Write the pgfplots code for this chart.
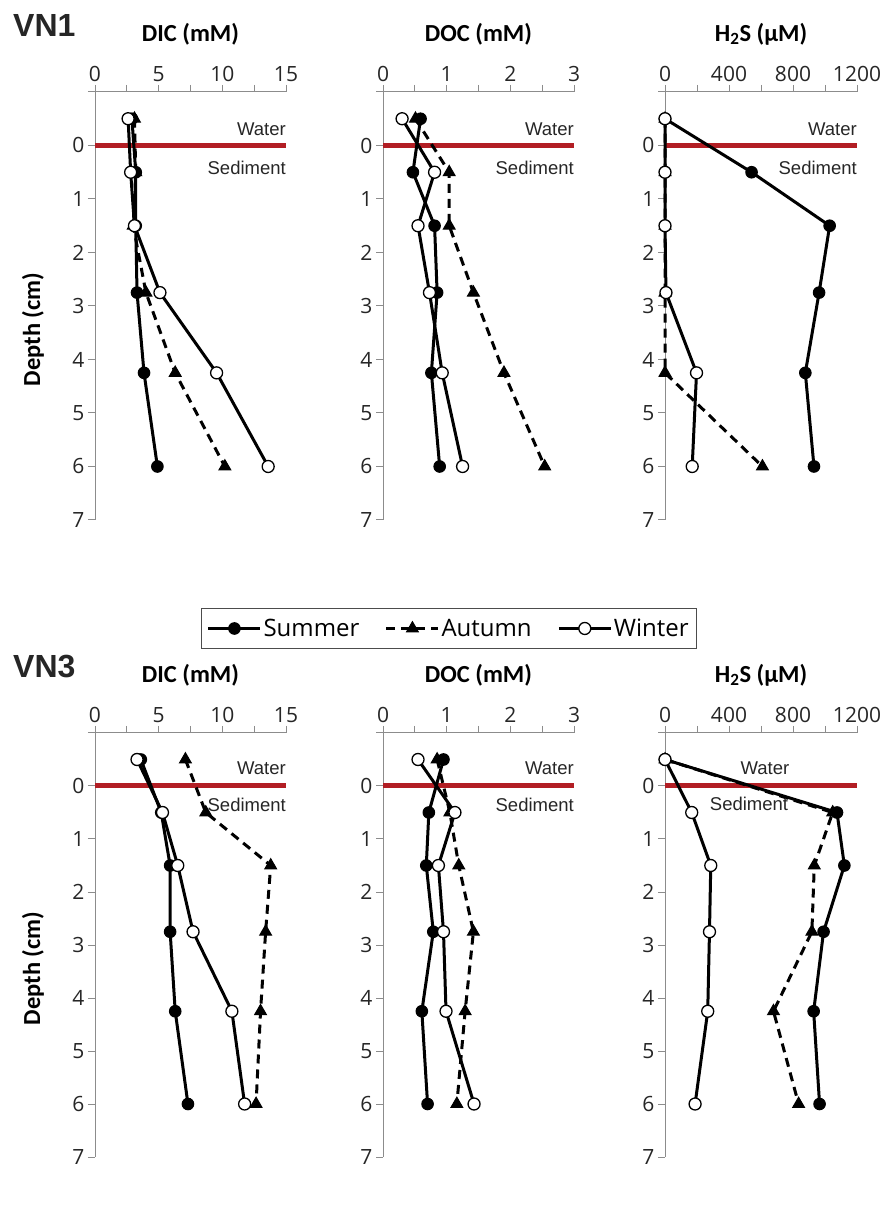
\documentclass[border=0pt]{standalone}
\usepackage{fontspec}
\setmainfont{Carlito}
\newfontfamily\osans{Open Sans}
\newfontfamily\arialf{Liberation Sans}
\usepackage{pgfplots}
\pgfplotsset{compat=1.18}
\usepackage{pgfplotstable}

\definecolor{sedred}{RGB}{178,30,36}
\definecolor{axgray}{RGB}{140,140,140}

% VN1
\pgfplotstableread{
depth dicS dicA dicW docS docA docW hsS hsA hsW
-0.5 2.9 3.1 2.6 0.59 0.51 0.30 0 0 0
0.5 3.2 3.2 2.8 0.47 1.04 0.81 541 0 0
1.5 3.2 3.0 3.1 0.81 1.04 0.55 1029 0 0
2.75 3.3 4.0 5.1 0.85 1.42 0.73 963 0 6
4.25 3.85 6.3 9.55 0.76 1.90 0.93 877 0 197
6 4.9 10.2 13.6 0.89 2.54 1.25 931 609 170
}\vnone

% VN3
\pgfplotstableread{
depth dicS dicA dicW docS docA docW hsS hsA hsW
-0.5 3.6 7.1 3.3 0.95 0.85 0.55 0 0 0
0.5 5.2 8.7 5.3 0.72 1.05 1.13 1075 1048 167
1.5 5.9 13.8 6.5 0.68 1.19 0.87 1121 933 286
2.75 5.9 13.4 7.7 0.79 1.42 0.95 991 918 278
4.25 6.3 13.0 10.75 0.61 1.29 0.99 929 678 267
6 7.3 12.65 11.75 0.70 1.16 1.43 966 835 188
}\vnthree

\tikzset{
  wsfont/.style={font=\arialf\fontsize{18.5}{18.5}\selectfont, inner sep=0pt, text=black!85},
}
\pgfplotsset{
  prof/.style={
    scale only axis, width=191pt,
    y dir=reverse, ymin=-1, ymax=7,
    ytick={-1,0,...,7}, yticklabels={,0,1,2,3,4,5,6,7},
    axis x line=top, axis y line=left,
    axis line style={-, draw=axgray, line width=1pt},
    tick style={draw=axgray, line width=1pt},
    tick align=outside,
    major tick length=7pt, minor tick length=7pt,
    tick label style={font=\osans\fontsize{21}{21}\selectfont, text=black!85},
    /pgf/number format/assume math mode=true,
    /pgf/number format/1000 sep={},
    scaled x ticks=false,
    clip=false,
    title style={font=\bfseries\fontsize{24.5}{24.5}\selectfont, at={(axis description cs:0.5,1)}, anchor=center, yshift=52pt},
    ylabel style={font=\bfseries\fontsize{24.5}{24.5}\selectfont, at={(axis description cs:-0.325,0.445)}, anchor=center},
  },
  dicax/.style={xmin=0, xmax=15, xtick={0,5,10,15}, minor xtick={2.5,7.5,12.5}},
  docax/.style={xmin=0, xmax=3, xtick={0,1,2,3}, minor xtick={0.5,1.5,2.5}},
  hsax/.style={xmin=0, xmax=1200, xtick={0,400,800,1200}, minor xtick={200,600,1000}},
  summer/.style={black, solid, line width=3pt, mark=*, mark size=5.8pt, mark options={solid, fill=black, line width=1pt}},
  autumn/.style={black, line width=3pt, dash pattern=on 9pt off 6pt, mark=triangle*, mark size=6.8pt, mark options={solid, fill=black, line width=1pt}},
  winter/.style={black, solid, line width=3pt, mark=*, mark size=6pt, mark options={solid, fill=white, draw=black, line width=1.3pt}},
  redline/.style={sedred, line width=5pt, forget plot, mark=none},
}

\begin{document}
\begin{tikzpicture}
\useasboundingbox (0pt,0pt) rectangle (883pt,1217pt);

\node[anchor=base west, inner sep=0pt, font=\arialf\bfseries\fontsize{32}{32}\selectfont, text=black!85] at (13pt,1180pt) {VN1};
\node[anchor=base west, inner sep=0pt, font=\arialf\bfseries\fontsize{32}{32}\selectfont, text=black!85] at (13pt,539pt) {VN3};

% ---------- VN1 ----------
\begin{axis}[prof, dicax, height=428pt, at={(95pt,1125pt)}, anchor=north west,
  title={DIC (mM)}, ylabel={Depth (cm)}]
\addplot[redline] coordinates {(0,0) (15,0)};
\addplot[summer] table[x=dicS, y=depth] {\vnone};
\addplot[autumn] table[x=dicA, y=depth] {\vnone};
\addplot[winter] table[x=dicW, y=depth] {\vnone};
\node[wsfont, anchor=east] at (axis cs:15,-0.30) {Water};
\node[wsfont, anchor=east] at (axis cs:15,0.41) {Sediment};
\end{axis}

\begin{axis}[prof, docax, height=428pt, at={(383pt,1125pt)}, anchor=north west,
  title={DOC (mM)},
  legend columns=3,
  legend style={at={(0.3455,-0.2535)}, anchor=center, draw=black!70, line width=1pt,
    font=\osans\fontsize{24}{24}\selectfont,
    /tikz/every even column/.append style={column sep=24pt},
    inner xsep=6pt, inner ysep=8pt},
  legend image code/.code={\draw[mark repeat=2, mark phase=2, #1, line width=2.2pt] plot coordinates {(0pt,0pt) (26pt,0pt) (52pt,0pt)};}]
\addplot[redline] coordinates {(0,0) (3,0)};
\addplot[summer] table[x=docS, y=depth] {\vnone};
\addplot[autumn] table[x=docA, y=depth] {\vnone};
\addplot[winter] table[x=docW, y=depth] {\vnone};
\node[wsfont, anchor=east] at (axis cs:3,-0.30) {Water};
\node[wsfont, anchor=east] at (axis cs:3,0.41) {Sediment};
\legend{Summer,Autumn,Winter}
\end{axis}

\begin{axis}[prof, hsax, height=428pt, width=192pt, at={(665pt,1125pt)}, anchor=north west,
  title={H\textsubscript{2}S (µM)}]
\addplot[redline] coordinates {(0,0) (1200,0)};
\addplot[summer] table[x=hsS, y=depth] {\vnone};
\addplot[autumn] table[x=hsA, y=depth] {\vnone};
\addplot[winter] table[x=hsW, y=depth] {\vnone};
\node[wsfont, anchor=east] at (axis cs:1200,-0.30) {Water};
\node[wsfont, anchor=east] at (axis cs:1200,0.41) {Sediment};
\end{axis}

% ---------- VN3 ----------
\begin{axis}[prof, dicax, height=424pt, at={(95pt,484pt)}, anchor=north west,
  title={DIC (mM)}, ylabel={Depth (cm)}]
\addplot[redline] coordinates {(0,0) (15,0)};
\addplot[summer] table[x=dicS, y=depth] {\vnthree};
\addplot[autumn] table[x=dicA, y=depth] {\vnthree};
\addplot[winter] table[x=dicW, y=depth] {\vnthree};
\node[wsfont, anchor=east] at (axis cs:15,-0.34) {Water};
\node[wsfont, anchor=east] at (axis cs:15,0.36) {Sediment};
\end{axis}

\begin{axis}[prof, docax, height=424pt, at={(383pt,484pt)}, anchor=north west,
  title={DOC (mM)}]
\addplot[redline] coordinates {(0,0) (3,0)};
\addplot[summer] table[x=docS, y=depth] {\vnthree};
\addplot[autumn] table[x=docA, y=depth] {\vnthree};
\addplot[winter] table[x=docW, y=depth] {\vnthree};
\node[wsfont, anchor=east] at (axis cs:3,-0.34) {Water};
\node[wsfont, anchor=east] at (axis cs:3,0.36) {Sediment};
\end{axis}

\begin{axis}[prof, hsax, height=424pt, width=192pt, at={(665pt,484pt)}, anchor=north west,
  title={H\textsubscript{2}S (µM)}]
\addplot[redline] coordinates {(0,0) (1200,0)};
\addplot[summer] table[x=hsS, y=depth] {\vnthree};
\addplot[autumn] table[x=hsA, y=depth] {\vnthree};
\addplot[winter] table[x=hsW, y=depth] {\vnthree};
\node[wsfont, anchor=center] at (axis cs:625,-0.34) {Water};
\node[wsfont, anchor=center] at (axis cs:525,0.34) {Sediment};
\end{axis}
\end{tikzpicture}
\end{document}
